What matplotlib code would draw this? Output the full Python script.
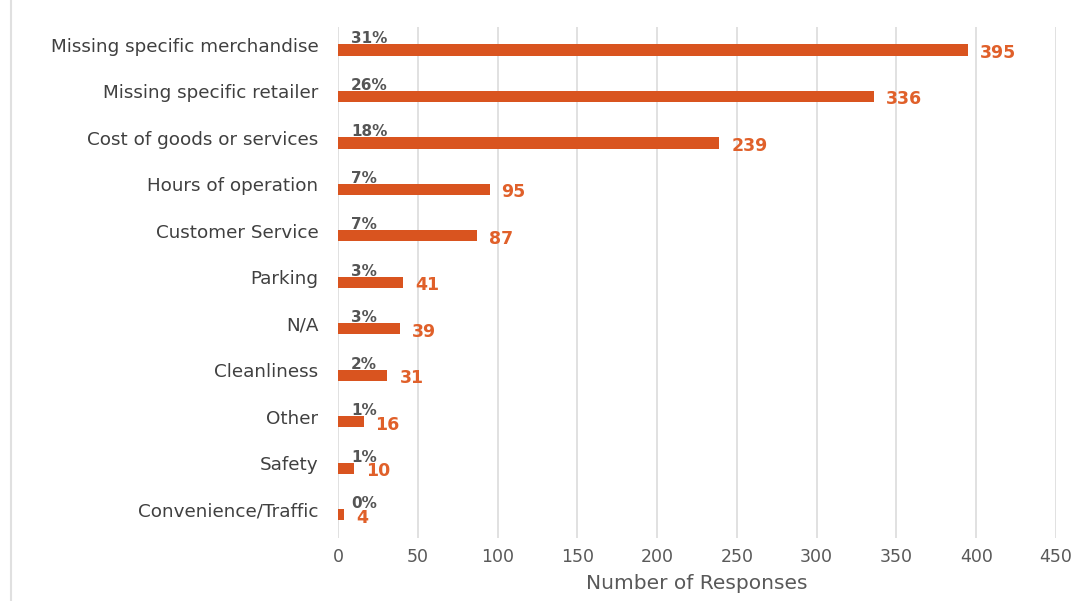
import matplotlib
matplotlib.use("Agg")
import matplotlib.pyplot as plt
from matplotlib.lines import Line2D
from matplotlib.transforms import ScaledTranslation

categories = ["Missing specific merchandise", "Missing specific retailer",
              "Cost of goods or services", "Hours of operation",
              "Customer Service", "Parking", "N/A", "Cleanliness",
              "Other", "Safety", "Convenience/Traffic"]
responses = [395, 336, 239, 95, 87, 41, 39, 31, 16, 10, 4]
percents = ["31%", "26%", "18%", "7%", "7%", "3%", "3%", "2%", "1%", "1%", "0%"]
xticks = [0, 50, 100, 150, 200, 250, 300, 350, 400, 450]

bar_color = "#D9541F"
val_color = "#E0602A"
pct_color = "#555555"
text_color = "#404040"

plt.rcParams['font.family'] = ['DejaVu Sans']

fig = plt.figure(figsize=(10.86, 6.01), dpi=100)
ax = fig.add_axes([338/1086, 1-538/601, (1056-338)/1086, (538-26.75)/601])

ypos = list(range(len(categories)))
ax.barh(ypos, responses, height=0.24, color=bar_color, zorder=3)
ax.set_ylim(len(categories)-0.5, -0.5)
ax.set_xlim(0, 450)
ax.set_xticks(xticks)
ax.set_xticklabels([str(t) for t in xticks])
ax.set_yticks(ypos)
ax.set_yticklabels(categories, fontsize=13.2, color=text_color)
ax.tick_params(axis='y', length=0, pad=14)
ax.tick_params(axis='x', length=0, pad=7, labelsize=12.5, labelcolor="#595959")
ax.grid(axis='x', color="#d9d9d9", linewidth=1.1, zorder=0)
for s in ax.spines.values():
    s.set_visible(False)
ax.set_xlabel("Number of Responses", fontsize=14.5, color="#595959", labelpad=6)

up = ScaledTranslation(0, 5/100, fig.dpi_scale_trans)
for lbl in ax.get_yticklabels():
    lbl.set_transform(lbl.get_transform() + up)

for y, v, p in zip(ypos, responses, percents):
    ax.annotate(p, xy=(0, y), xytext=(13, 11), textcoords='offset pixels',
                ha='left', va='center', fontsize=11, fontweight='bold',
                color=pct_color, zorder=4)
    ax.annotate(str(v), xy=(v, y), xytext=(12, -3), textcoords='offset pixels',
                ha='left', va='center', fontsize=12.5, fontweight='bold',
                color=val_color, zorder=4)

fig.add_artist(Line2D([11/1086, 11/1086], [0, 1], transform=fig.transFigure,
                      color="#e0e0e0", linewidth=1.5))

fig.savefig("out.png", dpi=100, facecolor="white")
